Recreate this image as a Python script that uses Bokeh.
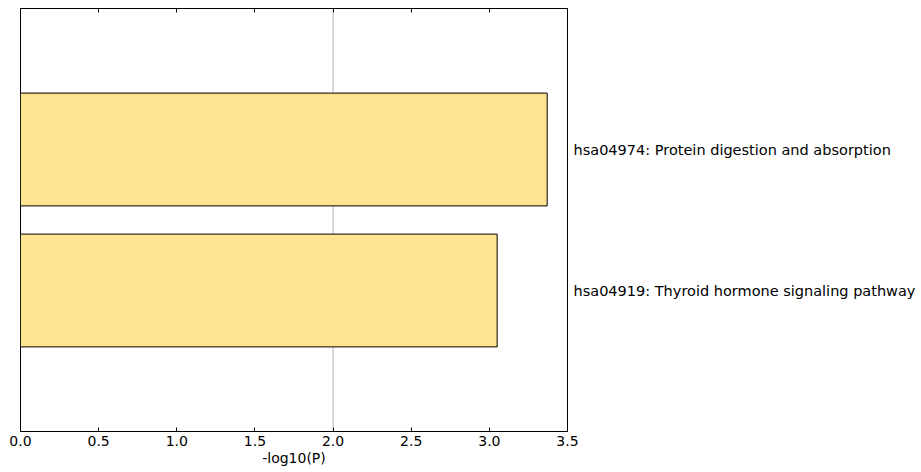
from bokeh.plotting import figure
from bokeh.models import ColumnDataSource, Span, FixedTicker, LinearAxis, Range1d, NumeralTickFormatter
from bokeh.embed import file_html
from bokeh.resources import INLINE

terms = ["hsa04919: Thyroid hormone signaling pathway",
         "hsa04974: Protein digestion and absorption"]
values = [3.05, 3.37]
threshold = 2.0
x_ticks = [0.0, 0.5, 1.0, 1.5, 2.0, 2.5, 3.0, 3.5]

pos = [i + 1 for i in range(len(terms))]
src = ColumnDataSource(dict(y=pos, right=values, term=terms))

FONT = "DejaVu Sans"
p = figure(width=921, height=472, output_backend="svg", toolbar_location=None,
           x_range=Range1d(0, 3.5), y_range=Range1d(0, len(terms) + 1),
           y_axis_location="right",
           min_border_left=20, min_border_right=354, min_border_top=8, min_border_bottom=41)
p.xgrid.visible = False
p.ygrid.visible = False
p.outline_line_color = "black"
p.outline_line_width = 1
p.background_fill_color = "white"
p.border_fill_color = "white"

span = Span(location=threshold, dimension="height", line_color="#b3b3b3", line_width=1, level="underlay")
p.add_layout(span)

p.hbar(y="y", left=0, right="right", height=0.8, source=src,
       fill_color="#fee391", line_color="black", line_width=1)

xa = p.xaxis[0]
xa.ticker = FixedTicker(ticks=x_ticks)
xa.formatter = NumeralTickFormatter(format="0.0")
xa.axis_line_color = None
xa.major_tick_in = 4
xa.major_tick_out = 0
xa.minor_tick_line_color = None
xa.major_label_text_font = FONT
xa.major_label_text_font_size = "14px"
xa.major_label_text_color = "black"
xa.major_label_standoff = 4
xa.axis_label = "-log10(P)"
xa.axis_label_text_font = FONT
xa.axis_label_text_font_size = "14px"
xa.axis_label_text_font_style = "normal"
xa.axis_label_text_color = "black"
xa.axis_label_standoff = 1

top = LinearAxis(ticker=FixedTicker(ticks=x_ticks), axis_line_color=None,
                 major_tick_in=4, major_tick_out=0, minor_tick_line_color=None,
                 major_label_overrides={t: "" for t in x_ticks},
                 major_label_text_font_size="1px", major_label_standoff=0)
p.add_layout(top, "above")

ya = p.yaxis[0]
ya.ticker = FixedTicker(ticks=pos)
ya.major_label_overrides = {pp: t for pp, t in zip(pos, terms)}
ya.axis_line_color = None
ya.major_tick_line_color = None
ya.minor_tick_line_color = None
ya.major_label_text_font = FONT
ya.major_label_text_font_size = "14.5px"
ya.major_label_text_color = "black"
ya.major_label_standoff = 0

open("out.html", "w").write(file_html(p, INLINE))
